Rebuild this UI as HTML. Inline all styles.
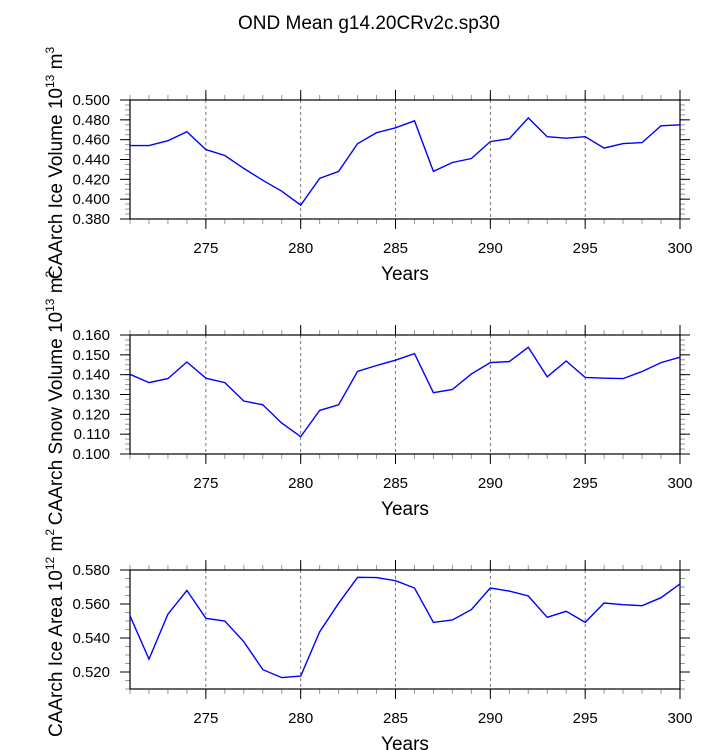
<!DOCTYPE html>
<html><head><meta charset="utf-8"><style>
body{margin:0;background:#fff;}
svg{display:block;font-family:"Liberation Sans",sans-serif;}
</style></head><body>
<svg id="chart" width="723" height="750" viewBox="0 0 723 750" xmlns="http://www.w3.org/2000/svg">
<text x="369" y="29" font-size="19" text-anchor="middle">OND Mean g14.20CRv2c.sp30</text>
</svg>
<script>
const years = [271,272,273,274,275,276,277,278,279,280,281,282,283,284,285,286,287,288,289,290,291,292,293,294,295,296,297,298,299,300];
const iceVolume = [0.454,0.454,0.459,0.468,0.450,0.444,0.431,0.419,0.408,0.394,0.421,0.428,0.456,0.467,0.472,0.479,0.428,0.437,0.441,0.458,0.461,0.482,0.463,0.4615,0.463,0.4515,0.456,0.457,0.474,0.475];
const snowVolume = [0.1402,0.136,0.138,0.1464,0.1382,0.136,0.1267,0.1248,0.1156,0.1087,0.122,0.1248,0.1417,0.1446,0.1473,0.1506,0.1309,0.1325,0.1404,0.1461,0.1466,0.1538,0.1389,0.1469,0.1386,0.1382,0.138,0.1416,0.1461,0.1488];
const iceArea = [0.553,0.5276,0.554,0.568,0.5516,0.550,0.5378,0.5214,0.5167,0.5176,0.5437,0.5604,0.5757,0.5755,0.5737,0.5694,0.5492,0.5506,0.5567,0.5694,0.5676,0.5647,0.5522,0.5557,0.5492,0.5606,0.5596,0.559,0.5637,0.5718];
const xTicks = [275,280,285,290,295,300];
const iceVolTicks = [0.38,0.40,0.42,0.44,0.46,0.48,0.50];
const snowVolTicks = [0.10,0.11,0.12,0.13,0.14,0.15,0.16];
const iceAreaTicks = [0.52,0.54,0.56,0.58];

const NS="http://www.w3.org/2000/svg";
const svg=document.getElementById('chart');
function mk(tag,attrs,parent){const e=document.createElementNS(NS,tag);for(const k in attrs)e.setAttribute(k,attrs[k]);(parent||svg).appendChild(e);return e;}
const X0=130,X1=680,xmin=271,xmax=300;
function xs(v){return X0+(v-xmin)/(xmax-xmin)*(X1-X0);}

function panel(name,top,bottom,ymin,ymax,ticks,minorStep,decimals,vals,labelMain,sup1,sup2,labelCy){
  const g=mk('g',{});
  
  
  const ys=v=>bottom-(v-ymin)/(ymax-ymin)*(bottom-top);
  // gridlines
  for(const t of xTicks){ if(t>=xmax) continue;
    const l=mk('line',{x1:xs(t),x2:xs(t),y1:top,y2:bottom,stroke:'#555','stroke-width':0.8,'stroke-dasharray':'3,3'},g);
    
    
  }
  // minor x ticks
  for(let y=xmin;y<=xmax;y++){
    mk('line',{x1:xs(y),x2:xs(y),y1:bottom,y2:bottom+5,stroke:'#999','stroke-width':1},g);
    mk('line',{x1:xs(y),x2:xs(y),y1:top,y2:top-5,stroke:'#999','stroke-width':1},g);
  }
  for(const t of xTicks){
    mk('line',{x1:xs(t),x2:xs(t),y1:bottom,y2:bottom+10,stroke:'#000','stroke-width':1},g);
    mk('line',{x1:xs(t),x2:xs(t),y1:top,y2:top-10,stroke:'#000','stroke-width':1},g);
    const tx=mk('text',{x:xs(t),y:bottom+34,'font-size':15,'text-anchor':'middle'},g);
    tx.textContent=t;
    
    
  }
  // minor y ticks
  for(let v=ymin;v<=ymax+1e-9;v+=minorStep){
    mk('line',{x1:X0,x2:X0-5,y1:ys(v),y2:ys(v),stroke:'#999','stroke-width':1},g);
    mk('line',{x1:X1,x2:X1+5,y1:ys(v),y2:ys(v),stroke:'#999','stroke-width':1},g);
  }
  for(const t of ticks){
    mk('line',{x1:X0-10,x2:X0,y1:ys(t),y2:ys(t),stroke:'#000','stroke-width':1},g);
    mk('line',{x1:X1,x2:X1+10,y1:ys(t),y2:ys(t),stroke:'#000','stroke-width':1},g);
    const tx=mk('text',{x:X0-20,y:ys(t)+5,'font-size':15,'text-anchor':'end'},g);
    tx.textContent=t.toFixed(decimals);
    
    
  }
  const fr=mk('rect',{x:X0,y:top,width:X1-X0,height:bottom-top,fill:'none',stroke:'#000','stroke-width':1.2},g);
  
  
  const pts=years.map((y,i)=>xs(y).toFixed(1)+','+ys(vals[i]).toFixed(1)).join(' ');
  const pl=mk('polyline',{points:pts,fill:'none',stroke:'#0000ff','stroke-width':1.4},g);
  
  
  const xt=mk('text',{x:(X0+X1)/2,y:bottom+61,'font-size':19,'text-anchor':'middle'},g);
  xt.textContent='Years';
  
  
  const yt=mk('text',{x:0,y:0,'font-size':19,'text-anchor':'middle',transform:'translate(62,'+labelCy+') rotate(-90)'},g);
  
  
  const a=document.createElementNS(NS,'tspan');a.textContent=labelMain;yt.appendChild(a);
  const b=document.createElementNS(NS,'tspan');b.setAttribute('font-size','12');b.setAttribute('dy','-8');b.textContent=sup1;yt.appendChild(b);
  const c=document.createElementNS(NS,'tspan');c.setAttribute('dy','8');c.textContent=' m';yt.appendChild(c);
  const d=document.createElementNS(NS,'tspan');d.setAttribute('font-size','12');d.setAttribute('dy','-8');d.textContent=sup2;yt.appendChild(d);
}
panel('ice-volume',100,219,0.38,0.50,iceVolTicks,0.005,3,iceVolume,'CAArch Ice Volume 10','13','3',163);
panel('snow-volume',335,454,0.10,0.16,snowVolTicks,0.0025,3,snowVolume,'CAArch Snow Volume 10','13','2',398);
panel('ice-area',570,689,0.51,0.58,iceAreaTicks,0.005,3,iceArea,'CAArch Ice Area 10','12','2',633);
</script>
</body></html>
